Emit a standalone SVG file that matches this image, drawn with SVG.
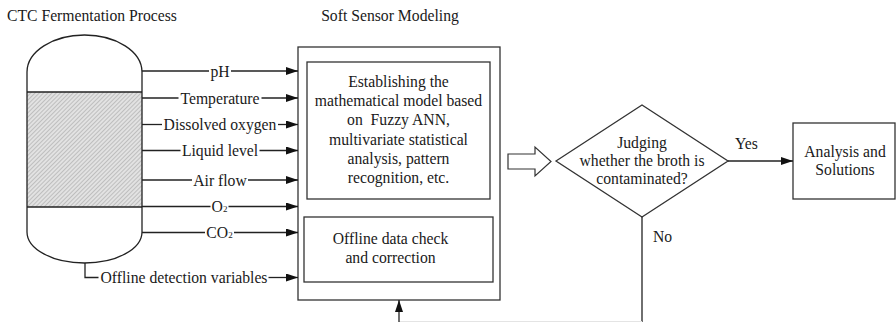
<svg xmlns="http://www.w3.org/2000/svg" width="896" height="322" viewBox="0 0 896 322">
  <defs>
    <pattern id="hatch" width="3" height="3" patternUnits="userSpaceOnUse" patternTransform="rotate(45)">
      <rect width="3" height="3" fill="#e2e2e2"/>
      <line x1="0" y1="0" x2="0" y2="3" stroke="#9a9a9a" stroke-width="1"/>
    </pattern>
    <marker id="arrow" viewBox="0 0 12 8" refX="12" refY="4" markerWidth="12" markerHeight="8" markerUnits="userSpaceOnUse" orient="auto">
      <path d="M0,0 L12,4 L0,8 Z" fill="#111"/>
    </marker>
  </defs>
  <style>
    text { font-family: "Liberation Serif", "Times New Roman", serif; font-size: 15.7px; fill: #1a1a1a; }
    .mid { text-anchor: middle; }
    .ln { fill: none; stroke: #222; stroke-width: 1.3; }
    .box { fill: #fff; stroke: #333; stroke-width: 1.3; }
    .arr { fill: none; stroke: #222; stroke-width: 1.3; marker-end: url(#arrow); }
  </style>

  <!-- headings -->
  <text x="7" y="21" font-size="16">CTC Fermentation Process</text>
  <text x="390" y="21" class="mid">Soft Sensor Modeling</text>

  <!-- fermentation vessel -->
  <g id="vessel">
    <rect x="27" y="92" width="115" height="115" fill="url(#hatch)"/>
    <path class="ln" d="M27,72 A57.5,37 0 0 1 142,72 L142,232 A57.5,31 0 0 1 27,232 Z"/>
    <line class="ln" x1="27" y1="92" x2="142" y2="92"/>
    <line class="ln" x1="27" y1="207" x2="142" y2="207"/>
  </g>

  <!-- soft sensor modelling block -->
  <g id="soft-sensor">
    <rect class="box" x="298" y="47" width="202" height="253"/>
  </g>
  <g id="model">
    <rect class="box" x="307" y="62" width="183" height="137"/>
    <text x="398.5" y="87" class="mid">Establishing the</text>
    <text x="398.5" y="106" class="mid">mathematical model based</text>
    <text x="398.5" y="125" class="mid" xml:space="preserve">on  Fuzzy ANN,</text>
    <text x="398.5" y="144.5" class="mid">multivariate statistical</text>
    <text x="398.5" y="163.5" class="mid">analysis, pattern</text>
    <text x="398.5" y="182.5" class="mid">recognition, etc.</text>
  </g>
  <g id="offline-check">
    <rect class="box" x="304" y="217" width="189" height="65"/>
    <text x="390.5" y="244" class="mid">Offline data check</text>
    <text x="390.5" y="262.5" class="mid">and correction</text>
  </g>

  <!-- decision -->
  <g id="judge">
    <path class="box" d="M556,161 L642,105 L728,161 L642,217 Z"/>
    <text x="642" y="148" class="mid">Judging</text>
    <text x="642" y="166" class="mid">whether the broth is</text>
    <text x="642" y="184" class="mid">contaminated?</text>
  </g>

  <g id="solutions">
    <rect class="box" x="793" y="123" width="102" height="76"/>
    <text x="845" y="157" class="mid">Analysis and</text>
    <text x="845" y="175" class="mid">Solutions</text>
  </g>

  <!-- connectors: each measured variable runs from the vessel into the modelling block -->
  <g id="connectors">
    <line class="ln" x1="142" y1="71" x2="209" y2="71"/>
    <line class="arr" x1="231" y1="71" x2="298" y2="71"/>
    <text x="220" y="76.5" class="mid">pH</text>

    <line class="ln" x1="142" y1="98" x2="178.5" y2="98"/>
    <line class="arr" x1="261.5" y1="98" x2="298" y2="98"/>
    <text x="220" y="103.5" class="mid">Temperature</text>

    <line class="ln" x1="142" y1="124.5" x2="162" y2="124.5"/>
    <line class="arr" x1="278" y1="124.5" x2="298" y2="124.5"/>
    <text x="220" y="130" class="mid">Dissolved oxygen</text>

    <line class="ln" x1="142" y1="150.5" x2="180.5" y2="150.5"/>
    <line class="arr" x1="259.5" y1="150.5" x2="298" y2="150.5"/>
    <text x="220" y="156" class="mid">Liquid level</text>

    <line class="ln" x1="142" y1="180" x2="192" y2="180"/>
    <line class="arr" x1="248" y1="180" x2="298" y2="180"/>
    <text x="220" y="185.5" class="mid">Air flow</text>

    <line class="ln" x1="142" y1="206.5" x2="210.5" y2="206.5"/>
    <line class="arr" x1="228.5" y1="206.5" x2="298" y2="206.5"/>
    <text x="219.5" y="212" class="mid">O<tspan font-size="9">2</tspan></text>

    <line class="ln" x1="142" y1="232.5" x2="205" y2="232.5"/>
    <line class="arr" x1="234" y1="232.5" x2="298" y2="232.5"/>
    <text x="219.5" y="238" class="mid">CO<tspan font-size="9">2</tspan></text>

    <path class="ln" d="M85,263 L85,277.5 L98.5,277.5"/>
    <line class="arr" x1="268.5" y1="277.5" x2="298" y2="277.5"/>
    <text x="184" y="283" class="mid">Offline detection variables</text>

    <!-- hollow block arrow -->
    <path d="M508,154 L535,154 L535,147 L551,161.5 L535,176 L535,169 L508,169 Z" fill="#fff" stroke="#333" stroke-width="1.2"/>

    <!-- yes branch -->
    <line class="arr" x1="728" y1="161" x2="793" y2="161"/>
    <text x="735" y="149">Yes</text>

    <!-- no branch, back to the modelling block -->
    <line class="ln" x1="642" y1="217" x2="642" y2="322"/>
    <text x="653" y="242">No</text>
    <line x1="399" y1="321.5" x2="642" y2="321.5" stroke="#e4e4e4" stroke-width="1"/>
    <line class="arr" x1="399" y1="322" x2="399" y2="300"/>
  </g>
</svg>
